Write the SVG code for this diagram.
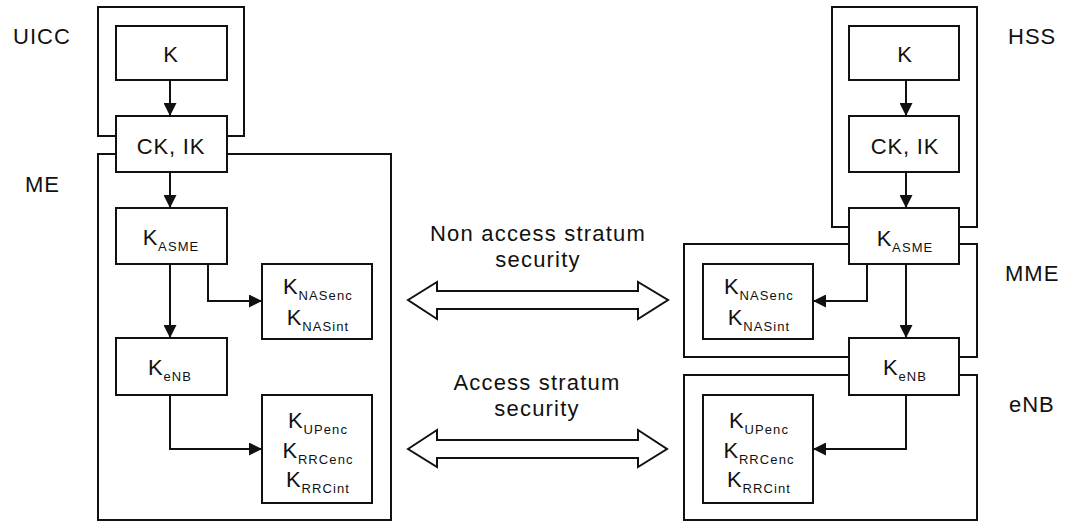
<svg xmlns="http://www.w3.org/2000/svg" width="1067" height="522" viewBox="0 0 1067 522">
<style>
.frame{fill:none;stroke:#111;stroke-width:2}
.box{fill:#fff;stroke:#111;stroke-width:2}
.conn{fill:none;stroke:#111;stroke-width:2}
.dbl{fill:#fff;stroke:#111;stroke-width:2;stroke-linejoin:miter}
text{font-family:"Liberation Sans",Arial,sans-serif;fill:#111}
.lbl{font-size:22px;letter-spacing:1px}
.mid{font-size:22px;letter-spacing:1.2px;text-anchor:middle}
.k{font-size:22px;letter-spacing:0.8px;text-anchor:middle}
.sub{font-size:13px;letter-spacing:1.1px}
</style>
<defs>
<marker id="ah" markerUnits="userSpaceOnUse" markerWidth="13" markerHeight="13" refX="13" refY="6.5" orient="auto">
<path d="M0,0 L13,6.5 L0,13 z" fill="#111"/>
</marker>
</defs>

<g id="containers">
<rect id="UICC-frame" class="frame" x="98" y="7" width="146" height="129"/>
<rect id="ME-frame" class="frame" x="98" y="154" width="293" height="366"/>
<rect id="HSS-frame" class="frame" x="832" y="7" width="145" height="220"/>
<rect id="MME-frame" class="frame" x="684" y="244" width="293" height="113"/>
<rect id="eNB-frame" class="frame" x="684" y="375" width="293" height="145"/>
</g>

<g id="labels">
<text class="lbl" x="13" y="44">UICC</text>
<text class="lbl" x="25" y="192">ME</text>
<text class="lbl" x="1008" y="44">HSS</text>
<text class="lbl" x="1005" y="281">MME</text>
<text class="lbl" x="1009" y="412">eNB</text>
</g>

<g id="connectors">
<path class="conn" d="M170,80 V116" marker-end="url(#ah)"/>
<path class="conn" d="M170,172 V208" marker-end="url(#ah)"/>
<path class="conn" d="M170,264 V338" marker-end="url(#ah)"/>
<path class="conn" d="M208,264 V301 H262" marker-end="url(#ah)"/>
<path class="conn" d="M170,395 V449 H262" marker-end="url(#ah)"/>
<path class="conn" d="M906,80 V116" marker-end="url(#ah)"/>
<path class="conn" d="M906,172 V208" marker-end="url(#ah)"/>
<path class="conn" d="M906,264 V338" marker-end="url(#ah)"/>
<path class="conn" d="M867,264 V301 H813" marker-end="url(#ah)"/>
<path class="conn" d="M906,395 V449 H813" marker-end="url(#ah)"/>
<polygon class="dbl" points="408,300 437,282 437,291 638,291 638,282 668,300 638,319 638,309 437,309 437,319"/>
<polygon class="dbl" points="408,449 437,430 437,440 638,440 638,430 667,449 638,467 638,458 437,458 437,467"/>
</g>

<g id="mid-text">
<text class="mid" x="538" y="241">Non access stratum</text>
<text class="mid" x="538" y="267">security</text>
<text class="mid" x="537" y="390">Access stratum</text>
<text class="mid" x="537" y="416">security</text>
</g>

<g id="ue-K">
<rect class="box" x="116" y="26" width="111" height="54"/>
<text class="k" x="171" y="62">K</text>
</g>
<g id="ue-CKIK">
<rect class="box" x="116" y="116" width="111" height="56"/>
<text class="k" x="171" y="154">CK, IK</text>
</g>
<g id="ue-KASME">
<rect class="box" x="116" y="208" width="111" height="56"/>
<text class="k" x="171" y="245">K<tspan class="sub" dy="6">ASME</tspan></text>
</g>
<g id="ue-KNAS">
<rect class="box" x="262" y="264" width="110" height="75"/>
<text class="k" x="318" y="294">K<tspan class="sub" dy="6">NASenc</tspan></text>
<text class="k" x="318" y="325">K<tspan class="sub" dy="6">NASint</tspan></text>
</g>
<g id="ue-KeNB">
<rect class="box" x="116" y="338" width="111" height="57"/>
<text class="k" x="170" y="375">K<tspan class="sub" dy="6">eNB</tspan></text>
</g>
<g id="ue-KUP">
<rect class="box" x="262" y="395" width="110" height="108"/>
<text class="k" x="318" y="428">K<tspan class="sub" dy="6">UPenc</tspan></text>
<text class="k" x="318" y="458">K<tspan class="sub" dy="6">RRCenc</tspan></text>
<text class="k" x="318" y="487">K<tspan class="sub" dy="6">RRCint</tspan></text>
</g>

<g id="nw-K">
<rect class="box" x="849" y="26" width="110" height="54"/>
<text class="k" x="905" y="62">K</text>
</g>
<g id="nw-CKIK">
<rect class="box" x="849" y="116" width="110" height="56"/>
<text class="k" x="905" y="154">CK, IK</text>
</g>
<g id="nw-KASME">
<rect class="box" x="849" y="208" width="110" height="56"/>
<text class="k" x="905" y="246">K<tspan class="sub" dy="6">ASME</tspan></text>
</g>
<g id="nw-KNAS">
<rect class="box" x="703" y="264" width="110" height="75"/>
<text class="k" x="759" y="294">K<tspan class="sub" dy="6">NASenc</tspan></text>
<text class="k" x="759" y="325">K<tspan class="sub" dy="6">NASint</tspan></text>
</g>
<g id="nw-KeNB">
<rect class="box" x="849" y="338" width="110" height="57"/>
<text class="k" x="905" y="375">K<tspan class="sub" dy="6">eNB</tspan></text>
</g>
<g id="nw-KUP">
<rect class="box" x="703" y="395" width="110" height="108"/>
<text class="k" x="759" y="428">K<tspan class="sub" dy="6">UPenc</tspan></text>
<text class="k" x="759" y="458">K<tspan class="sub" dy="6">RRCenc</tspan></text>
<text class="k" x="759" y="487">K<tspan class="sub" dy="6">RRCint</tspan></text>
</g>
</svg>
